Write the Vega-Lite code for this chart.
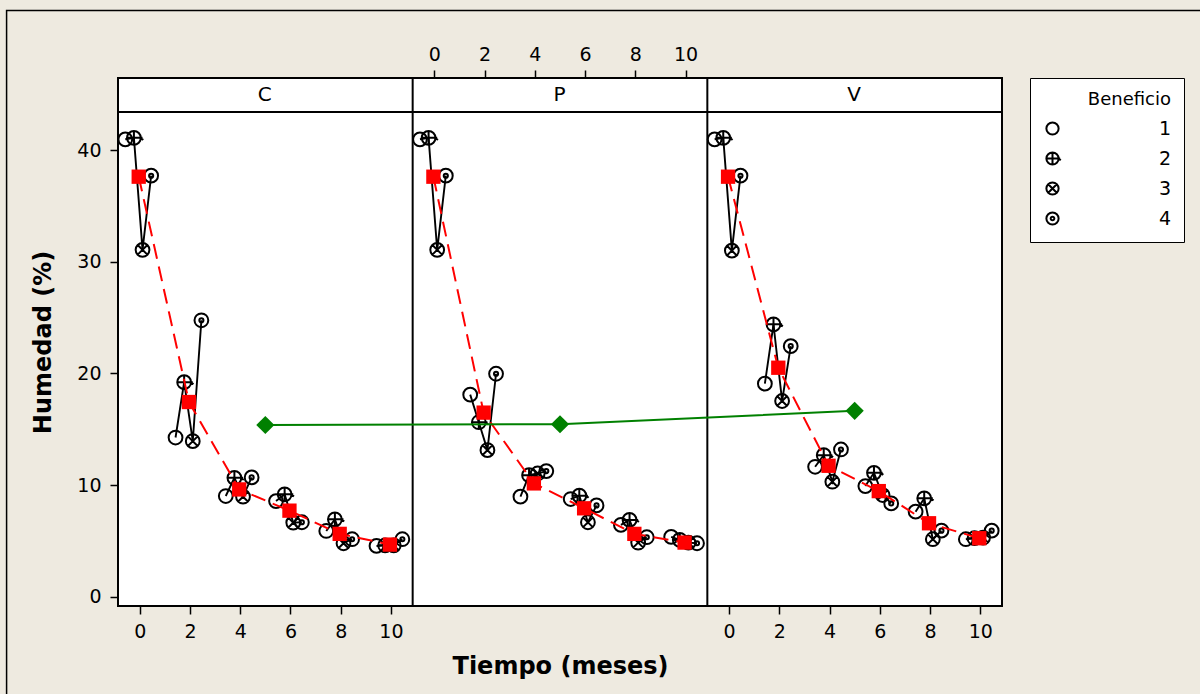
{
  "$schema": "https://vega.github.io/schema/vega-lite/v6.json",
  "width": 884,
  "height": 528,
  "autosize": {"type": "none"},
  "padding": {"left": 118, "top": 78, "right": 198, "bottom": 88},
  "background": "#EEEAE0",
  "config": {
    "font": "DejaVu Sans",
    "view": {"fill": "white", "stroke": "black", "strokeWidth": 2},
    "axis": {
      "labelFont": "DejaVu Sans",
      "labelFontSize": 19,
      "labelColor": "black",
      "tickColor": "black",
      "tickWidth": 1.5,
      "tickSize": 8,
      "grid": false,
      "domain": false,
      "titleFont": "DejaVu Sans",
      "titleFontSize": 24,
      "titleFontWeight": "bold",
      "titleColor": "black"
    },
    "legend": {
      "orient": "right",
      "offset": 28,
      "padding": 13,
      "strokeColor": "black",
      "fillColor": "white",
      "titleFont": "DejaVu Sans",
      "titleFontSize": 18,
      "titleFontWeight": "normal",
      "titleColor": "black",
      "titleAnchor": "end",
      "titlePadding": 10,
      "labelFont": "DejaVu Sans",
      "labelFontSize": 19,
      "labelColor": "black",
      "labelAlign": "right",
      "labelOffset": 109,
      "rowPadding": 9,
      "symbolSize": 150,
      "symbolStrokeWidth": 2,
      "symbolStrokeColor": "black",
      "symbolFillColor": "transparent"
    }
  },
  "datasets": {
    "obs": [
      {"Panel": "C", "Tiempo": 0, "Beneficio": 1, "Humedad": 40.97},
      {"Panel": "C", "Tiempo": 0, "Beneficio": 2, "Humedad": 41.1},
      {"Panel": "C", "Tiempo": 0, "Beneficio": 3, "Humedad": 31.07},
      {"Panel": "C", "Tiempo": 0, "Beneficio": 4, "Humedad": 37.71},
      {"Panel": "C", "Tiempo": 2, "Beneficio": 1, "Humedad": 14.26},
      {"Panel": "C", "Tiempo": 2, "Beneficio": 2, "Humedad": 19.22},
      {"Panel": "C", "Tiempo": 2, "Beneficio": 3, "Humedad": 13.93},
      {"Panel": "C", "Tiempo": 2, "Beneficio": 4, "Humedad": 24.76},
      {"Panel": "C", "Tiempo": 4, "Beneficio": 1, "Humedad": 9.02},
      {"Panel": "C", "Tiempo": 4, "Beneficio": 2, "Humedad": 10.65},
      {"Panel": "C", "Tiempo": 4, "Beneficio": 3, "Humedad": 8.96},
      {"Panel": "C", "Tiempo": 4, "Beneficio": 4, "Humedad": 10.69},
      {"Panel": "C", "Tiempo": 6, "Beneficio": 1, "Humedad": 8.57},
      {"Panel": "C", "Tiempo": 6, "Beneficio": 2, "Humedad": 9.17},
      {"Panel": "C", "Tiempo": 6, "Beneficio": 3, "Humedad": 6.64},
      {"Panel": "C", "Tiempo": 6, "Beneficio": 4, "Humedad": 6.67},
      {"Panel": "C", "Tiempo": 8, "Beneficio": 1, "Humedad": 5.89},
      {"Panel": "C", "Tiempo": 8, "Beneficio": 2, "Humedad": 6.93},
      {"Panel": "C", "Tiempo": 8, "Beneficio": 3, "Humedad": 4.79},
      {"Panel": "C", "Tiempo": 8, "Beneficio": 4, "Humedad": 5.15},
      {"Panel": "C", "Tiempo": 10, "Beneficio": 1, "Humedad": 4.55},
      {"Panel": "C", "Tiempo": 10, "Beneficio": 2, "Humedad": 4.6},
      {"Panel": "C", "Tiempo": 10, "Beneficio": 3, "Humedad": 4.6},
      {"Panel": "C", "Tiempo": 10, "Beneficio": 4, "Humedad": 5.15},
      {"Panel": "P", "Tiempo": 0, "Beneficio": 1, "Humedad": 40.97},
      {"Panel": "P", "Tiempo": 0, "Beneficio": 2, "Humedad": 41.1},
      {"Panel": "P", "Tiempo": 0, "Beneficio": 3, "Humedad": 31.07},
      {"Panel": "P", "Tiempo": 0, "Beneficio": 4, "Humedad": 37.71},
      {"Panel": "P", "Tiempo": 2, "Beneficio": 1, "Humedad": 18.1},
      {"Panel": "P", "Tiempo": 2, "Beneficio": 2, "Humedad": 15.63},
      {"Panel": "P", "Tiempo": 2, "Beneficio": 3, "Humedad": 13.13},
      {"Panel": "P", "Tiempo": 2, "Beneficio": 4, "Humedad": 19.97},
      {"Panel": "P", "Tiempo": 4, "Beneficio": 1, "Humedad": 8.96},
      {"Panel": "P", "Tiempo": 4, "Beneficio": 2, "Humedad": 10.89},
      {"Panel": "P", "Tiempo": 4, "Beneficio": 3, "Humedad": 11.04},
      {"Panel": "P", "Tiempo": 4, "Beneficio": 4, "Humedad": 11.25},
      {"Panel": "P", "Tiempo": 6, "Beneficio": 1, "Humedad": 8.75},
      {"Panel": "P", "Tiempo": 6, "Beneficio": 2, "Humedad": 9.05},
      {"Panel": "P", "Tiempo": 6, "Beneficio": 3, "Humedad": 6.67},
      {"Panel": "P", "Tiempo": 6, "Beneficio": 4, "Humedad": 8.18},
      {"Panel": "P", "Tiempo": 8, "Beneficio": 1, "Humedad": 6.43},
      {"Panel": "P", "Tiempo": 8, "Beneficio": 2, "Humedad": 6.88},
      {"Panel": "P", "Tiempo": 8, "Beneficio": 3, "Humedad": 4.85},
      {"Panel": "P", "Tiempo": 8, "Beneficio": 4, "Humedad": 5.33},
      {"Panel": "P", "Tiempo": 10, "Beneficio": 1, "Humedad": 5.36},
      {"Panel": "P", "Tiempo": 10, "Beneficio": 2, "Humedad": 5.09},
      {"Panel": "P", "Tiempo": 10, "Beneficio": 3, "Humedad": 4.85},
      {"Panel": "P", "Tiempo": 10, "Beneficio": 4, "Humedad": 4.79},
      {"Panel": "V", "Tiempo": 0, "Beneficio": 1, "Humedad": 40.97},
      {"Panel": "V", "Tiempo": 0, "Beneficio": 2, "Humedad": 41.1},
      {"Panel": "V", "Tiempo": 0, "Beneficio": 3, "Humedad": 31.0},
      {"Panel": "V", "Tiempo": 0, "Beneficio": 4, "Humedad": 37.71},
      {"Panel": "V", "Tiempo": 2, "Beneficio": 1, "Humedad": 19.08},
      {"Panel": "V", "Tiempo": 2, "Beneficio": 2, "Humedad": 24.4},
      {"Panel": "V", "Tiempo": 2, "Beneficio": 3, "Humedad": 17.53},
      {"Panel": "V", "Tiempo": 2, "Beneficio": 4, "Humedad": 22.44},
      {"Panel": "V", "Tiempo": 4, "Beneficio": 1, "Humedad": 11.64},
      {"Panel": "V", "Tiempo": 4, "Beneficio": 2, "Humedad": 12.68},
      {"Panel": "V", "Tiempo": 4, "Beneficio": 3, "Humedad": 10.3},
      {"Panel": "V", "Tiempo": 4, "Beneficio": 4, "Humedad": 13.19},
      {"Panel": "V", "Tiempo": 6, "Beneficio": 1, "Humedad": 9.91},
      {"Panel": "V", "Tiempo": 6, "Beneficio": 2, "Humedad": 11.1},
      {"Panel": "V", "Tiempo": 6, "Beneficio": 3, "Humedad": 9.11},
      {"Panel": "V", "Tiempo": 6, "Beneficio": 4, "Humedad": 8.36},
      {"Panel": "V", "Tiempo": 8, "Beneficio": 1, "Humedad": 7.62},
      {"Panel": "V", "Tiempo": 8, "Beneficio": 2, "Humedad": 8.81},
      {"Panel": "V", "Tiempo": 8, "Beneficio": 3, "Humedad": 5.15},
      {"Panel": "V", "Tiempo": 8, "Beneficio": 4, "Humedad": 5.92},
      {"Panel": "V", "Tiempo": 10, "Beneficio": 1, "Humedad": 5.15},
      {"Panel": "V", "Tiempo": 10, "Beneficio": 2, "Humedad": 5.24},
      {"Panel": "V", "Tiempo": 10, "Beneficio": 3, "Humedad": 5.3},
      {"Panel": "V", "Tiempo": 10, "Beneficio": 4, "Humedad": 5.92}
    ],
    "medias": [
      {"Panel": "C", "Tiempo": 0, "Humedad": 37.62},
      {"Panel": "C", "Tiempo": 2, "Humedad": 17.44},
      {"Panel": "C", "Tiempo": 4, "Humedad": 9.61},
      {"Panel": "C", "Tiempo": 6, "Humedad": 7.71},
      {"Panel": "C", "Tiempo": 8, "Humedad": 5.63},
      {"Panel": "C", "Tiempo": 10, "Humedad": 4.67},
      {"Panel": "P", "Tiempo": 0, "Humedad": 37.62},
      {"Panel": "P", "Tiempo": 2, "Humedad": 16.49},
      {"Panel": "P", "Tiempo": 4, "Humedad": 10.15},
      {"Panel": "P", "Tiempo": 6, "Humedad": 7.92},
      {"Panel": "P", "Tiempo": 8, "Humedad": 5.63},
      {"Panel": "P", "Tiempo": 10, "Humedad": 4.85},
      {"Panel": "V", "Tiempo": 0, "Humedad": 37.62},
      {"Panel": "V", "Tiempo": 2, "Humedad": 20.51},
      {"Panel": "V", "Tiempo": 4, "Humedad": 11.73},
      {"Panel": "V", "Tiempo": 6, "Humedad": 9.46},
      {"Panel": "V", "Tiempo": 8, "Humedad": 6.58},
      {"Panel": "V", "Tiempo": 10, "Humedad": 5.24}
    ],
    "paneles": [
      {"Panel": "C", "Humedad": 15.38},
      {"Panel": "P", "Humedad": 15.45},
      {"Panel": "V", "Humedad": 16.65}
    ]
  },
  "resolve": {"axis": {"x": "independent"}},
  "layer": [
    {
      "data": {"values": [{}]},
      "mark": {"type": "rect", "fillOpacity": 0, "stroke": "black", "strokeWidth": 1.5, "clip": false},
      "encoding": {
        "x": {"datum": -5.3, "type": "quantitative", "axis": null, "scale": {"domain": [-0.865, 34.325], "nice": false, "zero": false}},
        "x2": {"datum": 60},
        "y": {"datum": 52.5, "type": "quantitative", "scale": {"domain": [-0.83, 46.46], "nice": false, "zero": false}},
        "y2": {"datum": -40}
      }
    },
    {
      "data": {"values": [{}]},
      "mark": {"type": "rule", "color": "black", "strokeWidth": 2},
      "encoding": {"y": {"datum": 43.42, "type": "quantitative"}}
    },
    {
      "data": {"values": [{}]},
      "mark": {"type": "rule", "color": "black", "strokeWidth": 2},
      "encoding": {"x": {"datum": 10.865, "type": "quantitative", "axis": null}}
    },
    {
      "data": {"values": [{}]},
      "mark": {"type": "rule", "color": "black", "strokeWidth": 2},
      "encoding": {"x": {"datum": 22.595, "type": "quantitative", "axis": null}}
    },
    {
      "data": {"name": "obs"},
      "transform": [
        {"calculate": "indexof(['C','P','V'], datum.Panel) * 11.73 + datum.Tiempo + (datum.Beneficio - 2.5) * 0.343 - 0.06", "as": "gx"}
      ],
      "mark": {"type": "line", "color": "black", "strokeWidth": 1.9},
      "encoding": {
        "x": {"field": "gx", "type": "quantitative", "axis": null},
        "y": {"field": "Humedad", "type": "quantitative"},
        "detail": [{"field": "Panel"}, {"field": "Tiempo"}],
        "order": {"field": "Beneficio", "type": "quantitative"}
      }
    },
    {
      "data": {"name": "obs"},
      "transform": [
        {"calculate": "indexof(['C','P','V'], datum.Panel) * 11.73 + datum.Tiempo + (datum.Beneficio - 2.5) * 0.343 - 0.06", "as": "gx"}
      ],
      "mark": {"type": "point", "filled": false, "color": "black", "size": 190, "strokeWidth": 2, "opacity": 1},
      "encoding": {
        "x": {
          "field": "gx",
          "type": "quantitative",
          "axis": {
            "orient": "bottom",
            "title": "Tiempo (meses)",
            "values": [0, 2, 4, 6, 8, 10, 23.46, 25.46, 27.46, 29.46, 31.46, 33.46],
            "labelExpr": "format(datum.value > 20 ? datum.value - 23.46 : datum.value, '.0f')",
            "labelPadding": 8,
            "titlePadding": 13
          }
        },
        "y": {
          "field": "Humedad",
          "type": "quantitative",
          "axis": {
            "title": "Humedad (%)",
            "values": [0, 10, 20, 30, 40],
            "labelPadding": 9,
            "titlePadding": 21
          }
        },
        "shape": {
          "field": "Beneficio",
          "type": "nominal",
          "scale": {
            "domain": [1, 2, 3, 4],
            "range": [
              "M1,0A1,1,0,1,1,-1,0A1,1,0,1,1,1,0Z",
              "M1,0A1,1,0,1,1,-1,0A1,1,0,1,1,1,0ZM-1,0L1.25,0M0,-1L0,1M1,0L1.35,0.3",
              "M1,0A1,1,0,1,1,-1,0A1,1,0,1,1,1,0ZM-0.7,-0.7L0.7,0.7M-0.7,0.7L0.7,-0.7",
              "M1,0A1,1,0,1,1,-1,0A1,1,0,1,1,1,0ZM0.3,0A0.3,0.3,0,1,1,-0.3,0A0.3,0.3,0,1,1,0.3,0Z"
            ]
          },
          "legend": {"title": "Beneficio"}
        }
      }
    },
    {
      "data": {"name": "medias"},
      "transform": [
        {"calculate": "indexof(['C','P','V'], datum.Panel) * 11.73 + datum.Tiempo - 0.04", "as": "gx"}
      ],
      "mark": {"type": "line", "color": "#FF0000", "strokeWidth": 2, "strokeDash": [15, 8]},
      "encoding": {
        "x": {"field": "gx", "type": "quantitative", "axis": null},
        "y": {"field": "Humedad", "type": "quantitative"},
        "detail": {"field": "Panel"},
        "order": {"field": "Tiempo", "type": "quantitative"}
      }
    },
    {
      "data": {"name": "medias"},
      "transform": [
        {"calculate": "indexof(['C','P','V'], datum.Panel) * 11.73 + datum.Tiempo - 0.04", "as": "gx"}
      ],
      "mark": {"type": "point", "shape": "square", "filled": true, "color": "#FF0000", "size": 205, "opacity": 1},
      "encoding": {
        "x": {
          "field": "gx",
          "type": "quantitative",
          "axis": {
            "orient": "top",
            "title": null,
            "values": [11.73, 13.73, 15.73, 17.73, 19.73, 21.73],
            "labelExpr": "format(datum.value - 11.73, '.0f')",
            "labelPadding": 6,
            "tickSize": 8
          }
        },
        "y": {"field": "Humedad", "type": "quantitative"}
      }
    },
    {
      "data": {"name": "paneles"},
      "transform": [
        {"calculate": "indexof(['C','P','V'], datum.Panel) * 11.73 + 5", "as": "gx"}
      ],
      "mark": {"type": "line", "color": "#008000", "strokeWidth": 2},
      "encoding": {
        "x": {"field": "gx", "type": "quantitative", "axis": null},
        "y": {"field": "Humedad", "type": "quantitative"},
        "order": {"field": "gx", "type": "quantitative"}
      }
    },
    {
      "data": {"name": "paneles"},
      "transform": [
        {"calculate": "indexof(['C','P','V'], datum.Panel) * 11.73 + 5", "as": "gx"}
      ],
      "mark": {"type": "point", "shape": "diamond", "filled": true, "color": "#008000", "size": 330, "opacity": 1},
      "encoding": {
        "x": {"field": "gx", "type": "quantitative", "axis": null},
        "y": {"field": "Humedad", "type": "quantitative"}
      }
    },
    {
      "data": {"name": "paneles"},
      "transform": [
        {"calculate": "indexof(['C','P','V'], datum.Panel) * 11.73 + 4.98", "as": "sx"}
      ],
      "mark": {"type": "text", "font": "DejaVu Sans", "fontSize": 20, "color": "black", "align": "center", "baseline": "middle"},
      "encoding": {
        "x": {"field": "sx", "type": "quantitative", "axis": null},
        "y": {"datum": 44.94, "type": "quantitative"},
        "text": {"field": "Panel"}
      }
    }
  ]
}
